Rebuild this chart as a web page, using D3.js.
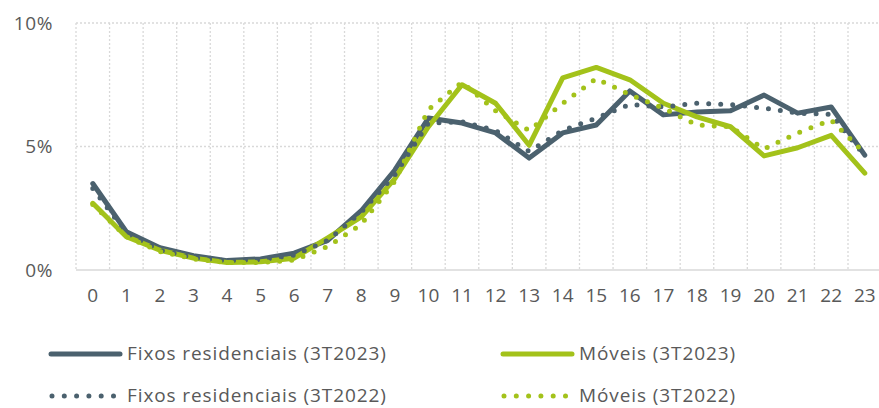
<!DOCTYPE html>
<html>
<head>
<meta charset="utf-8">
<script src="https://cdn.jsdelivr.net/npm/d3@7"></script>
<style>
  body { margin: 0; background: #fff; }
  svg text { font-family: "Open Sans", sans-serif; fill: #595959; }
</style>
</head>
<body>
<div class="chart"></div>
<script>
var hours = d3.range(0, 24).map(String)
var yTicks = [0, 5, 10]

// shares of traffic by hour, %
var fixos2023 = [3.5, 1.55, 0.9, 0.58, 0.38, 0.45, 0.68, 1.2, 2.4, 4.05, 6.15, 5.95, 5.55, 4.53,
  5.55, 5.87, 7.25, 6.28, 6.4, 6.45, 7.08, 6.35, 6.6, 4.65]
var moveis2023 = [2.7, 1.35, 0.8, 0.48, 0.3, 0.33, 0.48, 1.3, 2.15, 3.7, 5.8, 7.5, 6.75, 5.05,
  7.78, 8.2, 7.7, 6.75, 6.2, 5.8, 4.62, 4.95, 5.45, 3.92]
var fixos2022 = [3.3, 1.5, 0.8, 0.5, 0.38, 0.42, 0.6, 1.2, 2.35, 3.85, 5.95, 6.0, 5.65, 4.8,
  5.65, 6.15, 6.7, 6.6, 6.75, 6.7, 6.55, 6.35, 6.3, 4.62]
var moveis2022 = [2.65, 1.35, 0.75, 0.45, 0.3, 0.3, 0.4, 0.95, 1.85, 3.6, 6.5, 7.6, 6.45, 5.65,
  6.75, 7.75, 7.1, 6.55, 5.87, 5.8, 4.9, 5.55, 6.07, 4.72]

var seriesNames = ['Fixos residenciais (3T2023)', 'Móveis (3T2023)',
  'Fixos residenciais (3T2022)', 'Móveis (3T2022)']

var dark = '#4b616e'
var green = '#a3c21a'

var series = [
  {name: seriesNames[0], values: fixos2023, color: dark, dotted: false},
  {name: seriesNames[1], values: moveis2023, color: green, dotted: false},
  {name: seriesNames[2], values: fixos2022, color: dark, dotted: true},
  {name: seriesNames[3], values: moveis2022, color: green, dotted: true}
]

var width = 879
var height = 408
var plotLeft = 76
var bandW = (848 - 76) / 23

var svg = d3.select('.chart')
  .append('svg')
  .attr('width', width)
  .attr('height', height)

var x = d3.scaleBand()
  .domain(hours)
  .range([plotLeft, plotLeft + bandW * 24])

var y = d3.scaleLinear()
  .domain([0, 10])
  .range([270, 23])

// vertical dotted gridlines on band edges
svg.append('g')
  .selectAll('line')
  .data(hours)
  .enter().append('line')
  .attr('x1', function(d) { return x(d) })
  .attr('x2', function(d) { return x(d) })
  .attr('y1', y(10))
  .attr('y2', y(0))
  .style('stroke', '#d9d9d9')
  .style('stroke-width', 1.3)
  .style('stroke-dasharray', '2 2')

// horizontal gridlines
svg.append('g')
  .selectAll('line')
  .data(yTicks.filter(function(d) { return d > 0 }))
  .enter().append('line')
  .attr('x1', plotLeft)
  .attr('x2', width)
  .attr('y1', function(d) { return y(d) })
  .attr('y2', function(d) { return y(d) })
  .style('stroke', '#d9d9d9')
  .style('stroke-width', 1.3)
  .style('stroke-dasharray', '2 2')

svg.append('line')
  .attr('x1', plotLeft)
  .attr('x2', width)
  .attr('y1', y(0))
  .attr('y2', y(0))
  .style('stroke', '#d9d9d9')
  .style('stroke-width', 1.5)

// y axis labels
var yAxis = svg.append('g')
  .attr('transform', 'translate(53,0)')
  .call(d3.axisLeft(y).tickValues(yTicks).tickSize(0).tickPadding(0)
    .tickFormat(function(d) { return d + '%' }))
yAxis.select('.domain').remove()
yAxis.selectAll('text').style('font-size', '19px').style('letter-spacing', '0.6px')

// x axis labels
var xAxis = svg.append('g')
  .attr('transform', 'translate(0,' + 288 + ')')
  .call(d3.axisBottom(x).tickSize(0).tickPadding(0))
xAxis.select('.domain').remove()
xAxis.selectAll('text').style('font-size', '19px')

var line = d3.line()
  .x(function(d, i) { return x(hours[i]) + x.bandwidth() / 2 })
  .y(function(d) { return y(d) })

svg.append('g')
  .selectAll('path')
  .data(series)
  .enter().append('path')
  .attr('d', function(d) { return line(d.values) })
  .style('fill', 'none')
  .style('stroke', function(d) { return d.color })
  .style('stroke-width', 5)
  .style('stroke-linecap', 'round')
  .style('stroke-linejoin', 'round')
  .style('stroke-dasharray', function(d) { return d.dotted ? '0 12' : null })

// legend
var legendPos = [[49, 354], [501, 354], [49, 396], [501, 396]]
var legend = svg.append('g')
  .selectAll('g')
  .data(series)
  .enter().append('g')
  .attr('transform', function(d, i) { return 'translate(' + legendPos[i][0] + ',' + legendPos[i][1] + ')' })

legend.append('line')
  .attr('x1', function(d) { return d.dotted ? 3 : 2 })
  .attr('x2', function(d) { return d.dotted ? 70 : 71 })
  .style('stroke', function(d) { return d.color })
  .style('stroke-width', 5)
  .style('stroke-linecap', 'round')
  .style('stroke-dasharray', function(d) { return d.dotted ? '0 12.3' : null })

legend.append('text')
  .attr('x', 78)
  .attr('dy', '0.32em')
  .style('font-size', '19px')
  .style('letter-spacing', '0.9px')
  .text(function(d) { return d.name })
</script>
</body>
</html>
